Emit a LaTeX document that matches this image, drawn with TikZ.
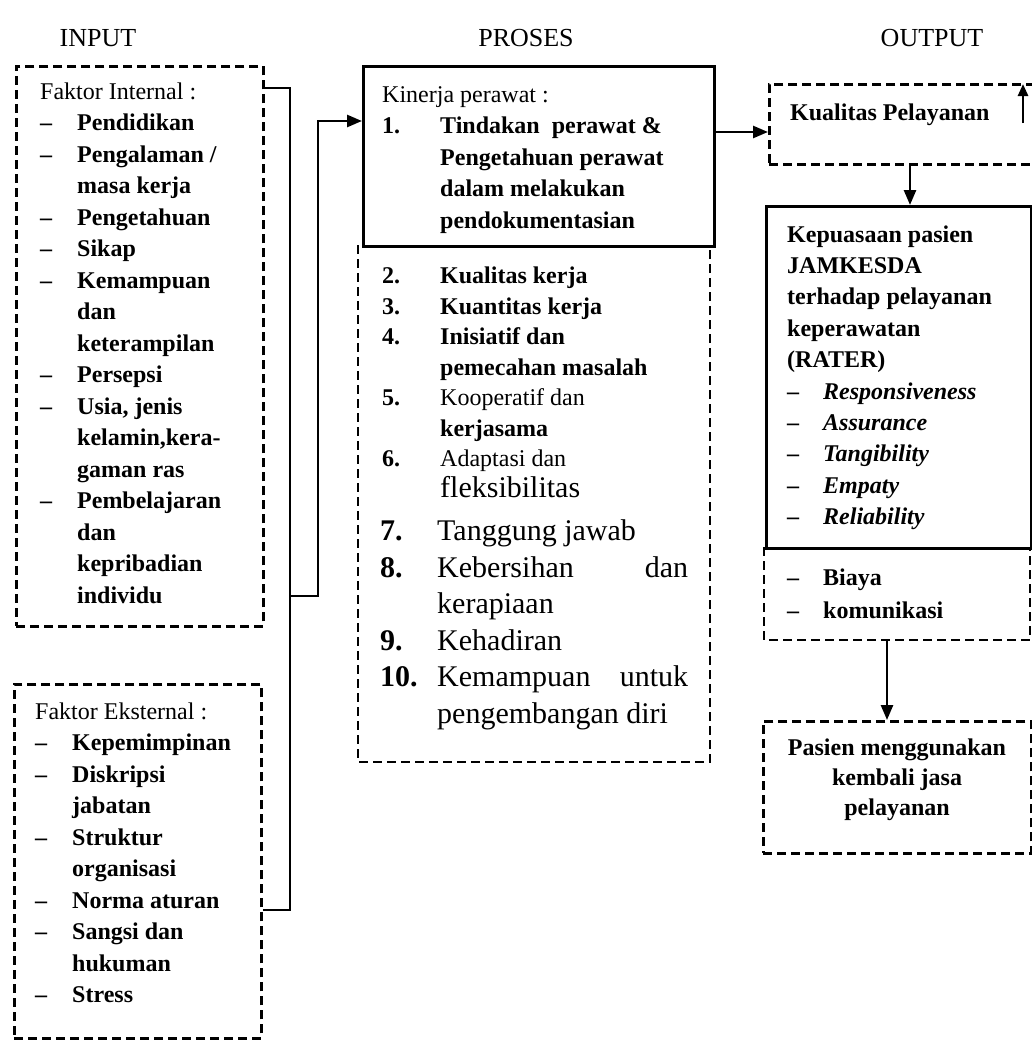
\documentclass[tikz,border=0pt]{standalone}
\usepackage{fontspec}
\setmainfont{Liberation Serif}
\usetikzlibrary{arrows.meta}

\tikzset{
  dbox/.style={draw, line width=2.6pt, dash pattern=on 9pt off 5pt, inner sep=0pt, anchor=north west},
  sbox/.style={draw, line width=2.6pt, inner sep=0pt, anchor=north west},
  dline/.style={line width=2.6pt, dash pattern=on 9pt off 5pt},
  line/.style={line width=2.6pt},
  txt/.style={inner sep=0pt, anchor=north west, font=\fontsize{24}{31.5}\selectfont\bfseries},
  title/.style={inner sep=0pt, font=\fontsize{26}{30}\selectfont}
}

\begin{document}
\begin{tikzpicture}[x=1pt, y=-1pt, >={Triangle[length=15pt,width=12pt]}]
			\useasboundingbox (0,0) rectangle (1032,1041);

			% titles
			\node[title] (tIn) at (98,38) {INPUT};
			\node[title] (tPros) at (526,38) {PROSES};
			\node[title] (tOut) at (932,38) {OUTPUT};

			% boxes
			\node[dbox, minimum width=247pt, minimum height=560pt] (intBox) at (15,65) {};
			\node[dbox, minimum width=247pt, minimum height=354pt] (extBox) at (13,683) {};
			\node[sbox, minimum width=351pt, minimum height=180pt] (prosTop) at (362,65) {};
			\draw[dline] (358,245) -- (358,762) -- (710,762) -- (710,245);
			\node[dbox, minimum width=268pt, minimum height=80pt] (kualBox) at (768,83) {};
			\node[sbox, minimum width=265pt, minimum height=342pt] (kepBox) at (765,205) {};
			\draw[dline] (764,547) -- (764,640) -- (1030,640) -- (1030,547);
			\node[dbox, minimum width=268pt, minimum height=132pt] (pasBox) at (762,720) {};

			% input texts
			\node[txt] (intTxt) at (40,77) {\begin{tabular}{@{}p{37pt}@{}l@{}}
				\multicolumn{2}{@{}l@{}}{\mdseries Faktor Internal :}\\
				-- & Pendidikan\\
				-- & Pengalaman /\\
				   & masa kerja\\
				-- & Pengetahuan\\
				-- & Sikap\\
				-- & Kemampuan\\
				   & dan\\
				   & keterampilan\\
				-- & Persepsi\\
				-- & Usia, jenis\\
				   & kelamin,kera-\\
				   & gaman ras\\
				-- & Pembelajaran\\
				   & dan\\
				   & kepribadian\\
				   & individu
			\end{tabular}};
			\node[txt] (extTxt) at (35,697) {\begin{tabular}{@{}p{37pt}@{}l@{}}
				\multicolumn{2}{@{}l@{}}{\mdseries Faktor Eksternal :}\\
				-- & Kepemimpinan\\
				-- & Diskripsi\\
				   & jabatan\\
				-- & Struktur\\
				   & organisasi\\
				-- & Norma aturan\\
				-- & Sangsi dan\\
				   & hukuman\\
				-- & Stress
			\end{tabular}};

			% proses texts
			\node[txt] (prosTxt) at (382,80) {\begin{tabular}{@{}p{58pt}@{}l@{}}
				\multicolumn{2}{@{}l@{}}{\mdseries Kinerja perawat :}\\
				1. & Tindakan\ \ perawat \&\\
				   & Pengetahuan perawat\\
				   & dalam melakukan\\
				   & pendokumentasian
			\end{tabular}};
			\node[txt, font=\fontsize{24}{30.5}\selectfont\bfseries] (listA) at (382,262) {\begin{tabular}{@{}p{58pt}@{}l@{}}
				2. & Kualitas kerja\\
				3. & Kuantitas kerja\\
				4. & Inisiatif dan\\
				   & pemecahan masalah\\
				5. & \mdseries Kooperatif dan\\
				   & kerjasama\\
				6. & \mdseries Adaptasi dan\\
				   & \mdseries\fontsize{30}{36.5}\selectfont fleksibilitas
			\end{tabular}};
			\node[txt, font=\fontsize{30}{36.5}\selectfont] (listB) at (380,515) {\begin{tabular}{@{}p{57pt}@{}l@{}}
				\textbf{7.} & Tanggung jawab\\
				\textbf{8.} & \makebox[251pt][l]{Kebersihan\hfill dan}\\
				            & kerapiaan\\
				\textbf{9.} & Kehadiran\\
				\textbf{10.} & \makebox[251pt][l]{Kemampuan\hfill untuk}\\
				            & pengembangan diri
			\end{tabular}};

			% output texts
			\node[inner sep=0pt, anchor=base west, font=\fontsize{24}{31.5}\selectfont\bfseries] (kualTxt) at (790,120) {Kualitas Pelayanan};
			\node[txt, font=\fontsize{24}{31.4}\selectfont\bfseries] (kepTxt) at (787,220) {\begin{tabular}{@{}p{36pt}@{}l@{}}
				\multicolumn{2}{@{}l@{}}{Kepuasaan pasien}\\
				\multicolumn{2}{@{}l@{}}{JAMKESDA}\\
				\multicolumn{2}{@{}l@{}}{terhadap pelayanan}\\
				\multicolumn{2}{@{}l@{}}{keperawatan}\\
				\multicolumn{2}{@{}l@{}}{(RATER)}\\
				-- & \itshape Responsiveness\\
				-- & \itshape Assurance\\
				-- & \itshape Tangibility\\
				-- & \itshape Empaty\\
				-- & \itshape Reliability
			\end{tabular}};
			\node[txt, font=\fontsize{24}{33}\selectfont\bfseries] (biayaTxt) at (787,562) {\begin{tabular}{@{}p{36pt}@{}l@{}}
				-- & Biaya\\
				-- & komunikasi
			\end{tabular}};
			\node[inner sep=0pt, align=center, font=\fontsize{24}{30}\selectfont\bfseries] (pasTxt) at (897,780) {Pasien menggunakan\\kembali jasa\\pelayanan};

			% connectors input -> proses
			\coordinate (jA) at (290,88);
			\coordinate (jB) at (290,910);
			\coordinate (jC) at (290,596);
			\coordinate (jD) at (318,596);
			\coordinate (jE) at (318,121);
			\draw[line] (intBox.east |- jA) -- (jA) -- (jB) -- (extBox.east |- jB);
			\draw[line, ->] (jC) -- (jD) -- (jE) -- (prosTop.west |- jE);

			% connectors proses -> output
			\coordinate (py) at (0,132);
			\draw[line, ->] (prosTop.east |- py) -- (kualBox.west |- py);
			\coordinate (upS) at (1023,123);
			\coordinate (upE) at (1023,84);
			\draw[line, -{Triangle[length=12pt,width=10pt]}] (upS) -- (upE);
			\coordinate (qx) at (910,0);
			\draw[line, ->] (qx |- kualBox.south) -- (qx |- kepBox.north);
			\coordinate (kA) at (887,640);
			\draw[line, ->] (kA) -- (kA |- pasBox.north);
		\end{tikzpicture}
\end{document}
